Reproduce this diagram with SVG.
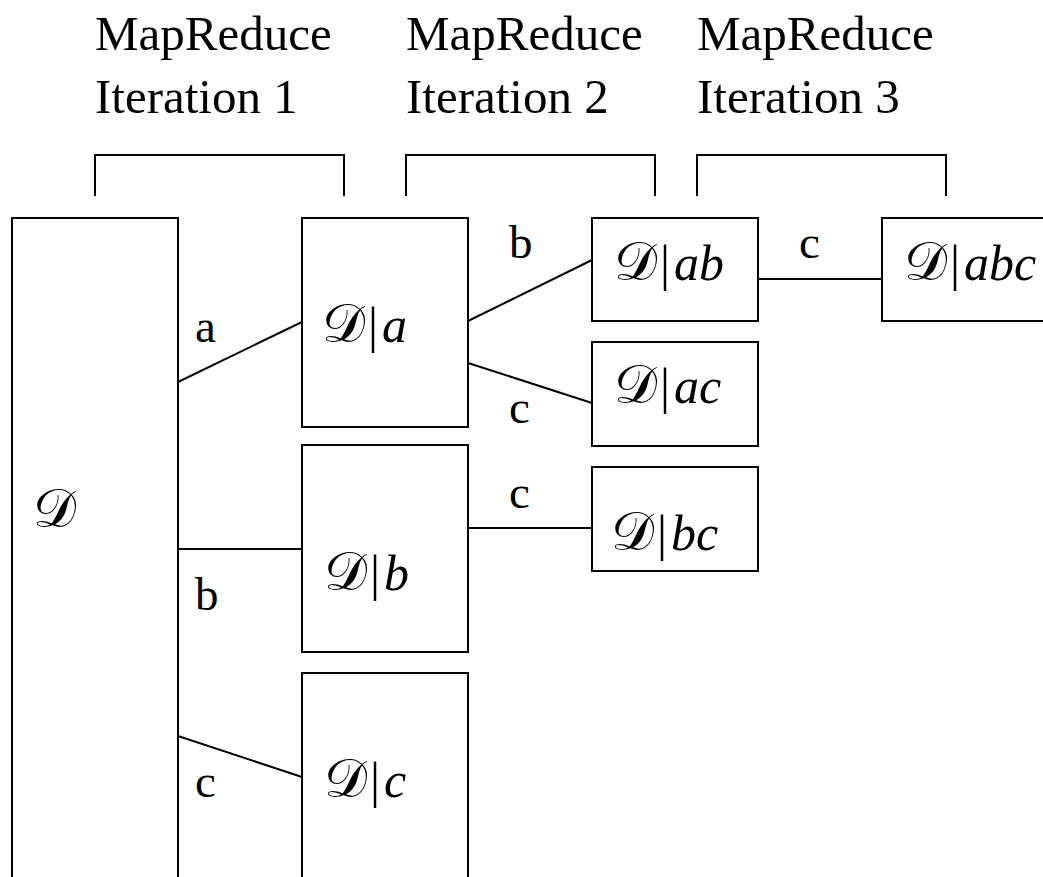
<svg xmlns="http://www.w3.org/2000/svg" width="1043" height="877" viewBox="0 0 1043 877">
  <style>
    .box { fill: #fff; stroke: #000; stroke-width: 2; }
    .edge { fill: none; stroke: #000; stroke-width: 2; }
    .head { font-family: "Liberation Serif", "Times New Roman", serif; font-size: 49px; fill: #000; }
    .lbl { font-family: "Liberation Serif", "Times New Roman", serif; font-size: 47px; fill: #000; }
    .math { font-family: "Liberation Serif", serif; font-size: 50px; fill: #000; }
    .cal { font-family: "DejaVu Serif", serif; font-size: 54px; }
    .it { font-style: italic; }
  </style>
  <rect width="1043" height="877" fill="#fff"/>

  <!-- iteration headers with brackets -->
  <g id="iter1">
    <text class="head" x="95" y="50">MapReduce</text>
    <text class="head" x="95" y="113">Iteration 1</text>
    <path class="edge" d="M95,196 V155 H344 V196"/>
  </g>
  <g id="iter2">
    <text class="head" x="406" y="50">MapReduce</text>
    <text class="head" x="406" y="113">Iteration 2</text>
    <path class="edge" d="M406,196 V155 H655 V196"/>
  </g>
  <g id="iter3">
    <text class="head" x="697" y="50">MapReduce</text>
    <text class="head" x="697" y="113">Iteration 3</text>
    <path class="edge" d="M697,196 V155 H946 V196"/>
  </g>

  <!-- connectors -->
  <g id="connectors">
    <line class="edge" x1="178" y1="382" x2="302" y2="322"/>
    <line class="edge" x1="178" y1="549" x2="302" y2="549"/>
    <line class="edge" x1="178" y1="736" x2="302" y2="777"/>
    <line class="edge" x1="468" y1="321" x2="592" y2="260"/>
    <line class="edge" x1="468" y1="363" x2="592" y2="403"/>
    <line class="edge" x1="468" y1="528" x2="592" y2="528"/>
    <line class="edge" x1="758" y1="279" x2="882" y2="279"/>
    <text class="lbl" x="195" y="342">a</text>
    <text class="lbl" x="195" y="610">b</text>
    <text class="lbl" x="195" y="797">c</text>
    <text class="lbl" x="509" y="258">b</text>
    <text class="lbl" x="509" y="423">c</text>
    <text class="lbl" x="509" y="508">c</text>
    <text class="lbl" x="799" y="258">c</text>
  </g>

  <!-- dataset partitions -->
  <g id="D">
    <rect class="box" x="12" y="218" width="166" height="680"/>
    <text class="math" x="33" y="527"><tspan class="cal">𝒟</tspan></text>
  </g>
  <g id="D_a">
    <rect class="box" x="302" y="218" width="166" height="209"/>
    <text class="math" x="322" y="342"><tspan class="cal">𝒟</tspan><tspan dx="3">|</tspan><tspan class="it" dx="4">a</tspan></text>
  </g>
  <g id="D_b">
    <rect class="box" x="302" y="445" width="166" height="207"/>
    <text class="math" x="324" y="590"><tspan class="cal">𝒟</tspan><tspan dx="3">|</tspan><tspan class="it" dx="4">b</tspan></text>
  </g>
  <g id="D_c">
    <rect class="box" x="302" y="673" width="166" height="225"/>
    <text class="math" x="324" y="797"><tspan class="cal">𝒟</tspan><tspan dx="3">|</tspan><tspan class="it" dx="4">c</tspan></text>
  </g>
  <g id="D_ab">
    <rect class="box" x="592" y="218" width="166" height="103"/>
    <text class="math" x="614" y="280"><tspan class="cal">𝒟</tspan><tspan dx="3">|</tspan><tspan class="it" dx="4">ab</tspan></text>
  </g>
  <g id="D_ac">
    <rect class="box" x="592" y="342" width="166" height="104"/>
    <text class="math" x="614" y="403"><tspan class="cal">𝒟</tspan><tspan dx="3">|</tspan><tspan class="it" dx="4">ac</tspan></text>
  </g>
  <g id="D_bc">
    <rect class="box" x="592" y="467" width="166" height="104"/>
    <text class="math" x="611" y="550"><tspan class="cal">𝒟</tspan><tspan dx="3">|</tspan><tspan class="it" dx="4">bc</tspan></text>
  </g>
  <g id="D_abc">
    <rect class="box" x="882" y="218" width="180" height="103"/>
    <text class="math" x="904" y="280"><tspan class="cal">𝒟</tspan><tspan dx="3">|</tspan><tspan class="it" dx="4">abc</tspan></text>
  </g>
</svg>
